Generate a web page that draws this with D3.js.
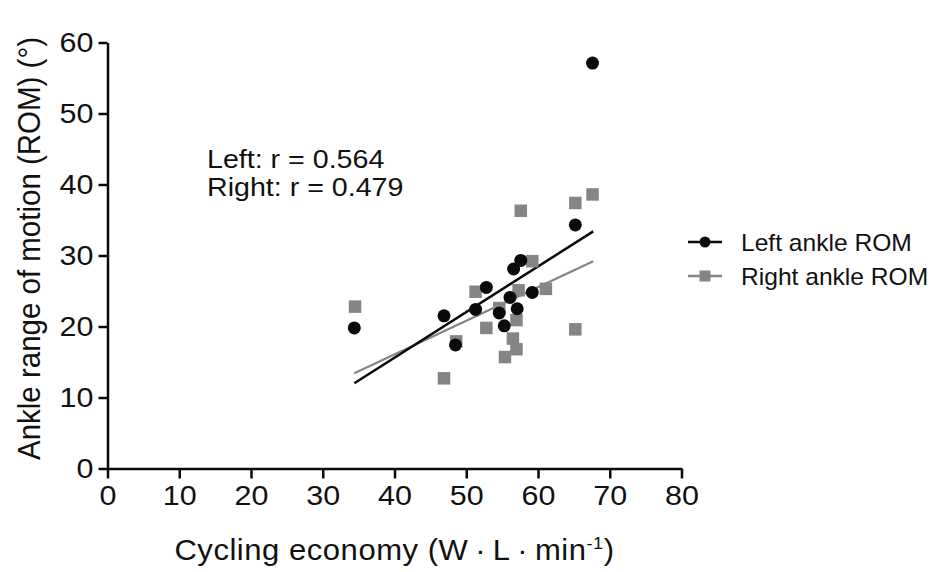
<!DOCTYPE html>
<html>
<head>
<meta charset="utf-8">
<script src="https://cdn.jsdelivr.net/npm/d3@7/dist/d3.min.js"></script>
<style>
  html, body { margin: 0; padding: 0; background: #fff; }
  svg { display: block; font-family: "Liberation Sans", Arial, sans-serif; }
</style>
</head>
<body>
<svg id="chart" width="931" height="572"></svg>
<script>
// ---- data ----
const leftX  = [34.4, 46.9, 48.5, 51.3, 52.8, 54.6, 55.3, 56.1, 56.6, 57.6, 57.1, 59.2, 65.2, 67.6];
const leftY  = [19.8, 21.5, 17.4, 22.4, 25.5, 21.9, 20.1, 24.1, 28.1, 29.3, 22.5, 24.8, 34.3, 57.1];
const rightX = [34.5, 46.9, 48.6, 51.3, 52.8, 54.6, 55.4, 56.5, 57.0, 57.0, 57.3, 57.6, 59.2, 61.1, 65.2, 65.2, 67.6];
const rightY = [22.8, 12.7, 17.9, 24.9, 19.8, 22.6, 15.7, 18.3, 20.9, 16.8, 25.1, 36.3, 29.2, 25.3, 37.4, 19.6, 38.6];
// fitted regression lines: [x start, x end], [y start, y end]
const leftFitX  = [34.4, 67.7];
const leftFitY  = [12.0, 33.4];
const rightFitX = [34.4, 67.7];
const rightFitY = [13.4, 29.2];
const xTicks = [0, 10, 20, 30, 40, 50, 60, 70, 80];
const yTicks = [0, 10, 20, 30, 40, 50, 60];
const annotations = ["Left: r = 0.564", "Right: r = 0.479"];
const legendLabels = ["Left ankle ROM", "Right ankle ROM"];

const svg = d3.select("#chart");
const x0 = 107.5, x1 = 681.5, y0 = 468.5, y1 = 42.5;
const x = d3.scaleLinear().domain([0, 80]).range([x0, x1]);
const y = d3.scaleLinear().domain([0, 60]).range([y0, y1]);

const black = "#0a0a0a", gray = "#858585", textCol = "#111";
const SX = 1.07; // horizontal stretch of the lettering seen in the reference

// axes
const xAxis = svg.append("g").attr("transform", `translate(0,${y0})`)
  .call(d3.axisBottom(x).tickValues(xTicks).tickSize(10).tickSizeOuter(0).tickPadding(6));
const yAxis = svg.append("g").attr("transform", `translate(${x0},0)`)
  .call(d3.axisLeft(y).tickValues(yTicks).tickSize(9).tickSizeOuter(0).tickPadding(5));
[xAxis, yAxis].forEach(a => {
  a.selectAll("path.domain").attr("stroke", black).attr("stroke-width", 2.5);
  a.selectAll(".tick line").attr("stroke", black).attr("stroke-width", 2.5);
  a.selectAll(".tick text").attr("fill", textCol).style("font-size", "28.5px")
   .style("font-family", "'Liberation Sans', Arial, sans-serif");
});
xAxis.selectAll(".tick text").attr("transform", `scale(${SX},1)`);
yAxis.selectAll(".tick text").attr("x", -14 / SX).attr("transform", `scale(${SX},1)`);

// axis titles
svg.append("text").attr("transform", `translate(${(x0 + x1) / 2},560) scale(${SX},1)`)
  .attr("text-anchor", "middle").style("font-size", "29px").style("letter-spacing", "0.5px")
  .attr("fill", textCol)
  .call(t => {
    t.append("tspan").text("Cycling economy (W\u2009·\u2009L\u2009·\u2009min");
    t.append("tspan").attr("dy", -11).style("font-size", "17px").text("-1");
    t.append("tspan").attr("dy", 11).text(")");
  });
svg.append("text").attr("transform", `translate(40,${(y0 + y1) / 2 - 7}) scale(${SX},1) rotate(-90)`)
  .attr("text-anchor", "middle").style("font-size", "29.5px").attr("fill", textCol)
  .text("Ankle range of motion (ROM) (°)");

// regression lines
const line = d3.line().x(d => x(d[0])).y(d => y(d[1]));
svg.append("path").datum(d3.zip(rightFitX, rightFitY)).attr("d", line)
  .attr("fill", "none").attr("stroke", gray).attr("stroke-width", 2.2);
svg.append("path").datum(d3.zip(leftFitX, leftFitY)).attr("d", line)
  .attr("fill", "none").attr("stroke", black).attr("stroke-width", 2.5);

// points: right squares first, then left circles
const sq = 12.5;
svg.append("g").selectAll("rect").data(d3.zip(rightX, rightY)).join("rect")
  .attr("x", d => x(d[0]) - sq / 2).attr("y", d => y(d[1]) - sq / 2)
  .attr("width", sq).attr("height", sq).attr("fill", gray);
svg.append("g").selectAll("circle").data(d3.zip(leftX, leftY)).join("circle")
  .attr("cx", d => x(d[0])).attr("cy", d => y(d[1])).attr("r", 6.5).attr("fill", black);

// annotation
svg.append("g").selectAll("text").data(annotations).join("text")
  .attr("transform", (d, i) => `translate(207,${168 + i * 28}) scale(1.145,1)`)
  .style("font-size", "25px").attr("fill", textCol).text(d => d);

// legend
const lg = svg.append("g");
const lgY = [242, 276];
lg.append("line").attr("x1", 688).attr("x2", 722).attr("y1", lgY[0]).attr("y2", lgY[0])
  .attr("stroke", black).attr("stroke-width", 2.5);
lg.append("circle").attr("cx", 705).attr("cy", lgY[0]).attr("r", 5.5).attr("fill", black);
lg.append("line").attr("x1", 688).attr("x2", 722).attr("y1", lgY[1]).attr("y2", lgY[1])
  .attr("stroke", gray).attr("stroke-width", 2.5);
lg.append("rect").attr("x", 699.5).attr("y", lgY[1] - 5.5).attr("width", 11).attr("height", 11).attr("fill", gray);
lg.selectAll("text").data(legendLabels).join("text")
  .attr("transform", (d, i) => `translate(741,${lgY[i] + 9}) scale(${SX},1)`)
  .style("font-size", "23px").attr("fill", textCol).text(d => d);
</script>
</body>
</html>
